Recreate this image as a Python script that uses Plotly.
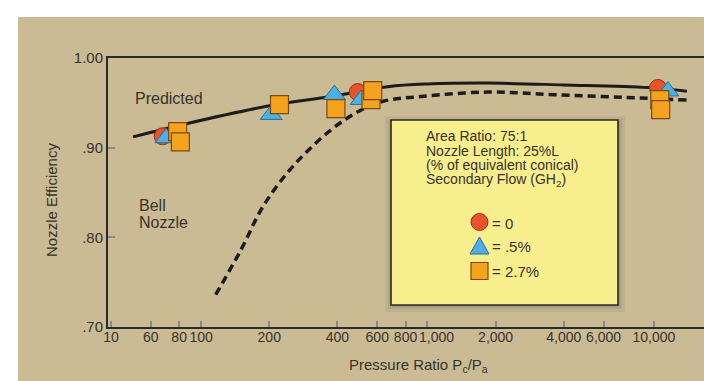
import math
import plotly.graph_objects as go

# ---------------- data ----------------
predicted_x = [50, 87, 203, 374, 668, 1000, 1850, 4000, 9400, 14000]
predicted_y = [0.912, 0.927, 0.947, 0.957, 0.968, 0.971, 0.972, 0.970, 0.967, 0.963]

bell_x = [116, 150, 190, 267, 430, 624, 937, 1850, 3660, 9400, 14000]
bell_y = [0.736, 0.786, 0.8365, 0.885, 0.931, 0.951, 0.957, 0.962, 0.959, 0.955, 0.953]

flow0_x = [67.6, 492, 10420]
flow0_y = [0.9127, 0.962, 0.9666]

flow05_x = [70, 204, 388, 509, 11530]
flow05_y = [0.9108, 0.9368, 0.9591, 0.9535, 0.963]

flow27_x = [78.8, 81, 222, 394, 563, 573, 10620, 10720]
flow27_y = [0.918, 0.9064, 0.948, 0.9435, 0.9535, 0.9636, 0.9535, 0.9424]

x_tick_vals = [40, 60, 80, 100, 200, 400, 600, 800, 1000, 2000, 4000, 6000, 10000]
x_tick_labels = ["10", "60", "80", "100", "200", "400", "600", "800",
                 "", "2,000", "4,000", "6,000", "10,000"]
x_shifted_tick_vals = [1000]
x_shifted_tick_labels = ["1,000"]
y_tick_vals = [0.70, 0.80, 0.90, 1.00]
y_tick_labels = [".70", ".80", ".90", "1.00"]

legend_title_lines = ["Area Ratio: 75:1", "Nozzle Length: 25%L",
                      "(% of equivalent conical)", "Secondary Flow (GH<sub>2</sub>)"]
legend_item_labels = ["= 0", "= .5%", "= 2.7%"]

# ---------------- style ----------------
W, H = 712, 381
ML, MR, MT, MB = 100, 10, 50, 62
PW, PH = W - ML - MR, H - MT - MB
FONT = "Liberation Sans, Arial, Helvetica, sans-serif"
TXT = "#38322a"
TAN = "#cbbb95"
RED, BLUE, ORANGE = "#e8532c", "#4cb0e4", "#f5a21e"
X_RANGE = [math.log10(38.8), math.log10(17700)]


def px(p):
    return (p - ML) / PW


def py(p):
    return (H - MB - p) / PH


fig = go.Figure()

fig.add_trace(go.Scatter(x=predicted_x, y=predicted_y, mode="lines",
                         line=dict(color="#1c1c1c", width=3, shape="spline"),
                         showlegend=False, hoverinfo="skip"))
fig.add_trace(go.Scatter(x=bell_x, y=bell_y, mode="lines",
                         line=dict(color="#1c1c1c", width=3.5, dash="8px,5px", shape="spline"),
                         showlegend=False, hoverinfo="skip"))
fig.add_trace(go.Scatter(x=flow0_x, y=flow0_y, mode="markers",
                         marker=dict(symbol="circle", size=17, color=RED,
                                     line=dict(color="#8a3418", width=1)),
                         showlegend=False))
fig.add_trace(go.Scatter(x=flow05_x, y=flow05_y, mode="markers",
                         marker=dict(symbol="triangle-up", size=19, color=BLUE,
                                     line=dict(color="#2a6e96", width=1)),
                         showlegend=False))
fig.add_trace(go.Scatter(x=flow27_x, y=flow27_y, mode="markers",
                         marker=dict(symbol="square", size=18, color=ORANGE,
                                     line=dict(color="#7a4a12", width=1.2)),
                         showlegend=False))
# empty trace so the helper label axis is drawn
fig.add_trace(go.Scatter(x=[], y=[], xaxis="x2", yaxis="y", showlegend=False, hoverinfo="skip"))

shapes = []
# tan background panel (white border at top/left)
shapes.append(dict(type="rect", xref="paper", yref="paper", layer="below",
                   x0=px(10), x1=px(W + 5), y0=py(H + 5), y1=py(9),
                   fillcolor=TAN, line=dict(width=0)))
# legend box shadow + box
bx0, bx1, by0, by1 = 383, 610, 112, 297
for off, col in [(7, "rgba(90,90,90,0.10)"), (4, "rgba(90,90,90,0.14)"), (2, "rgba(90,90,90,0.18)")]:
    shapes.append(dict(type="rect", xref="paper", yref="paper",
                       x0=px(bx0 - off + 1), x1=px(bx1 + off), y0=py(by1 + off), y1=py(by0 - off + 3),
                       fillcolor=col, line=dict(width=0)))
shapes.append(dict(type="rect", xref="paper", yref="paper",
                   x0=px(bx0), x1=px(bx1), y0=py(by1), y1=py(by0),
                   fillcolor="#f8ee8e", line=dict(color="#2e2a20", width=1.6)))
# legend glyphs
cx, r = 471.5, 8.5
shapes.append(dict(type="circle", xref="paper", yref="paper",
                   x0=px(cx - r), x1=px(cx + r), y0=py(214 + r), y1=py(214 - r),
                   fillcolor=RED, line=dict(color="#8a3418", width=1)))
tri = "M {},{} L {},{} L {},{} Z".format(px(cx - 9.5), py(246), px(cx + 9.5), py(246), px(cx), py(229))
shapes.append(dict(type="path", xref="paper", yref="paper", path=tri,
                   fillcolor=BLUE, line=dict(color="#2a6e96", width=1)))
shapes.append(dict(type="rect", xref="paper", yref="paper",
                   x0=px(cx - 8.5), x1=px(cx + 8.5), y0=py(263 + 8.5), y1=py(263 - 8.5),
                   fillcolor=ORANGE, line=dict(color="#7a4a12", width=1.2)))

annotations = []


def note(text, x, y, size=15, xanchor="left", textangle=0):
    annotations.append(dict(text=text, x=px(x), y=py(y), xref="paper", yref="paper",
                            xanchor=xanchor, yanchor="middle", showarrow=False,
                            textangle=textangle,
                            font=dict(family=FONT, size=size, color=TXT)))


note("Predicted", 125, 90, size=16)
note("Bell", 129, 197, size=16)
note("Nozzle", 129, 214, size=16)
for line, yy in zip(legend_title_lines, [128, 142.5, 157, 171.5]):
    note(line, 416, yy, size=14)
for lab, yy in zip(legend_item_labels, [215, 238, 263]):
    note(lab, 482, yy, size=15)
note("Pressure Ratio P<sub>c</sub>/P<sub>a</sub>", 410, 357, size=15, xanchor="center")
note("Nozzle Efficiency", 44, 192, size=15, xanchor="center", textangle=-90)

fig.update_layout(
    width=W, height=H,
    margin=dict(l=ML, r=MR, t=MT, b=MB, autoexpand=False),
    paper_bgcolor="#ffffff",
    plot_bgcolor="#fdfcf4",
    shapes=shapes,
    annotations=annotations,
    showlegend=False,
    font=dict(family=FONT, size=15, color=TXT),
    xaxis2=dict(type="log", range=X_RANGE, overlaying="x", anchor="y", side="bottom",
                tickmode="array", tickvals=x_shifted_tick_vals, ticktext=x_shifted_tick_labels,
                tickangle=0, automargin=False, ticklabelstandoff=0, ticklabelshift=9,
                ticks="", showgrid=False, zeroline=False, showline=False,
                tickfont=dict(family=FONT, size=14, color=TXT)),
)
fig.layout.xaxis.update(type="log", range=X_RANGE,
                        tickmode="array", tickvals=x_tick_vals, ticktext=x_tick_labels,
                        tickangle=0, automargin=False, ticklabelstandoff=-4,
                        ticks="inside", ticklen=6, tickwidth=1.5, tickcolor="#8a8a8a",
                        showgrid=False, zeroline=False, showline=True, mirror=True,
                        linecolor="#2a2a2a", linewidth=2,
                        tickfont=dict(family=FONT, size=14, color=TXT))
fig.layout.yaxis.update(range=[0.70, 1.00], tickmode="array", tickvals=y_tick_vals,
                        ticktext=y_tick_labels, automargin=False,
                        ticks="inside", ticklen=7, tickwidth=1.5, tickcolor="#8a8a8a",
                        showgrid=False, zeroline=False, showline=True, mirror=True,
                        linecolor="#2a2a2a", linewidth=2,
                        tickfont=dict(family=FONT, size=15, color=TXT))

fig.write_html("out.html")
